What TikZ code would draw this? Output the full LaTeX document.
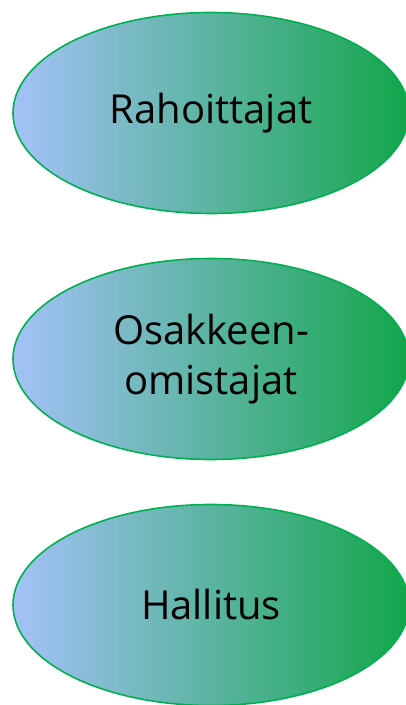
\documentclass[tikz,border=0pt]{standalone}
\usepackage{fontspec}
\setmainfont{Open Sans}
\usetikzlibrary{shapes.geometric}
\definecolor{lightblue}{HTML}{A4C2F8}
\definecolor{darkgreen}{HTML}{12A64A}
\definecolor{rimgreen}{HTML}{00B050}
\tikzstyle{n}=[ellipse,draw=rimgreen,line width=1.6pt,left color=lightblue,right color=darkgreen,minimum width=396pt,minimum height=201pt,inner sep=0,font=\fontsize{40}{50}\selectfont,align=center,text=black]

\begin{document}
\begin{tikzpicture}

                        \useasboundingbox (0,0) rectangle (406pt,705pt);

                        \node[n] (rahoittajat) at (211pt, 592pt) {Rahoittajat};
                        \node[n] (osakkeenomistajat) at (211pt, 346pt) {Osakkeen-\\omistajat};
                        \node[n] (hallitus) at (211pt, 100pt) {Hallitus};

    \end{tikzpicture}
\end{document}
